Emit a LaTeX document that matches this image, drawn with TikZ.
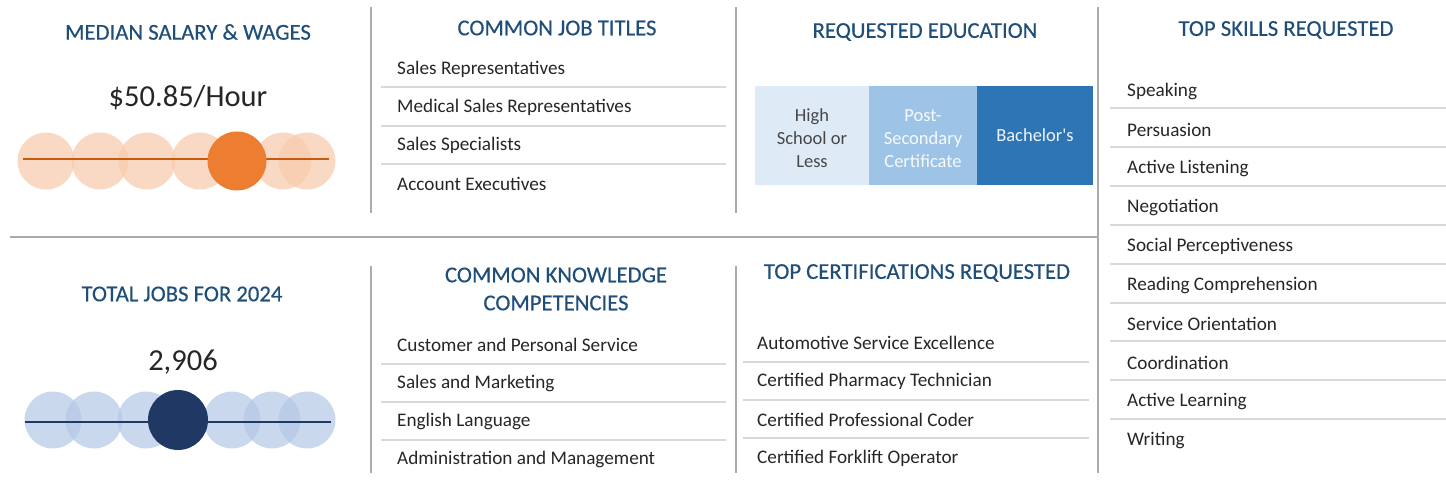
\documentclass[tikz,border=0pt]{standalone}
\usepackage{fontspec}
\setmainfont{Carlito}
\newfontfamily\headfont[FakeBold=0.4]{Carlito}
\usetikzlibrary{positioning}
\definecolor{headblue}{HTML}{1F4E79}
\definecolor{textgray}{HTML}{262626}
\definecolor{sepgray}{HTML}{D9D9D9}
\definecolor{divgray}{HTML}{ABABAB}
\definecolor{orangedark}{HTML}{ED7D31}
\definecolor{orangeline}{HTML}{C55A11}
\definecolor{orangelight}{HTML}{F8CBAD}
\definecolor{navy}{HTML}{203864}
\definecolor{bluelight}{HTML}{B4C7E7}
\definecolor{eduone}{HTML}{DEEBF7}
\definecolor{edutwo}{HTML}{9DC3E6}
\definecolor{eduthree}{HTML}{2E75B6}

\begin{document}
\begin{tikzpicture}[x=1pt,y=-1pt,
		heading/.style={text=headblue,font=\headfont\fontsize{22.7}{28}\selectfont,align=center},
		bigvalue/.style={text=textgray,font=\fontsize{30.5}{34}\selectfont},
		listitem/.style={anchor=west,inner sep=0pt,text=textgray,font=\fontsize{19.2}{22}\selectfont},
		sepline/.style={draw=sepgray,line width=2pt},
		divider/.style={draw=divgray,line width=2pt},
		edubox/.style={minimum height=99pt,inner sep=0pt,align=center,font=\fontsize{18.5}{23}\selectfont}]
				\useasboundingbox (0,0) rectangle (1446,497);
				
				% dividers
				\draw[divider] (371,7) -- (371,213);
				\draw[divider] (371,266) -- (371,473);
				\draw[divider] (736,7) -- (736,213);
				\draw[divider] (736,266) -- (736,473);
				\draw[divider] (1098,7) -- (1098,473);
				\draw[divider] (10,237) -- (1098,237);
				
				% salary
				\node[heading] (salaryhead) at (188,32) {MEDIAN SALARY \& WAGES};
				\node[bigvalue] (salary) at (188,98) {\$50.85/Hour};
				\foreach \x in {46,100,147,200,283,307}{
					\fill[orangelight,opacity=0.72] (\x,161) circle (28.5);}
				\draw[orangeline,line width=2pt] (23,159) -- (329,159);
				\fill[orangedark] (237,161) circle (29.5);
				
				% jobs
				\node[heading] (jobshead) at (182,294) {TOTAL JOBS FOR 2024};
				\node[bigvalue] (jobs) at (183,362) {2,906};
				\foreach \x in {53,94,146,232,272,307}{
					\fill[bluelight,opacity=0.7] (\x,420) circle (28.5);}
				\draw[navy,line width=2pt] (25,422) -- (331,422);
				\fill[navy] (178,420) circle (30);
				
				% job titles
				\node[heading] (titleshead) at (557,28) {COMMON JOB TITLES};
				\foreach \t [count=\i] in {Sales Representatives,Medical Sales Representatives,Sales Specialists,Account Executives}{
					\node[listitem] (title\i) at (397,{69+38.3*(\i-1)}) {\t};}
				\foreach \i in {1,2,3}{
					\draw[sepline] (381,{87.5+38.3*(\i-1)}) -- (726,{87.5+38.3*(\i-1)});}
				
				% education
				\node[heading] (eduhead) at (925,32) {REQUESTED EDUCATION};
				\node[edubox,fill=eduone,text=textgray!85,minimum width=114pt] (school) at (812,135.5) {\rule{0pt}{19pt}High\\School or\\Less};
				\node[edubox,fill=edutwo,text=white!92!edutwo,minimum width=108pt] (postsec) at (923,135.5) {\rule{0pt}{19pt}Post-\\Secondary\\Certificate};
				\node[edubox,fill=eduthree,text=white!92!eduthree,minimum width=116pt] (bachelor) at (1035,135.5) {Bachelor\textquotesingle s};
				
				% knowledge
				\node[heading] (knowhead) at (556,289) {COMMON KNOWLEDGE\\COMPETENCIES};
				\foreach \t [count=\i] in {Customer and Personal Service,Sales and Marketing,English Language,Administration and Management}{
					\node[listitem] (know\i) at (397,{345+38.3*(\i-1)}) {\t};}
				\foreach \i in {1,2,3}{
					\draw[sepline] (381,{363.5+38.3*(\i-1)}) -- (726,{363.5+38.3*(\i-1)});}
				
				% certifications
				\node[heading] (certhead) at (917,273) {TOP CERTIFICATIONS REQUESTED};
				\foreach \t [count=\i] in {Automotive Service Excellence,Certified Pharmacy Technician,Certified Professional Coder,Certified Forklift Operator}{
					\node[listitem] (cert\i) at (757,{343+38.3*(\i-1)}) {\t};}
				\foreach \i in {1,2,3}{
					\draw[sepline] (743,{361.5+38.3*(\i-1)}) -- (1089,{361.5+38.3*(\i-1)});}
				
				% skills
				\node[heading] (skillhead) at (1286,30) {TOP SKILLS REQUESTED};
				\foreach \t [count=\i] in {Speaking,Persuasion,Active Listening,Negotiation,Social Perceptiveness,Reading Comprehension,Service Orientation,Coordination,Active Learning,Writing}{
					\node[listitem] (skill\i) at (1127,{91+38.8*(\i-1)}) {\t};}
				\foreach \i in {1,...,9}{
					\draw[sepline] (1110,{108.5+38.8*(\i-1)}) -- (1446,{108.5+38.8*(\i-1)});}
			\end{tikzpicture}
\end{document}
